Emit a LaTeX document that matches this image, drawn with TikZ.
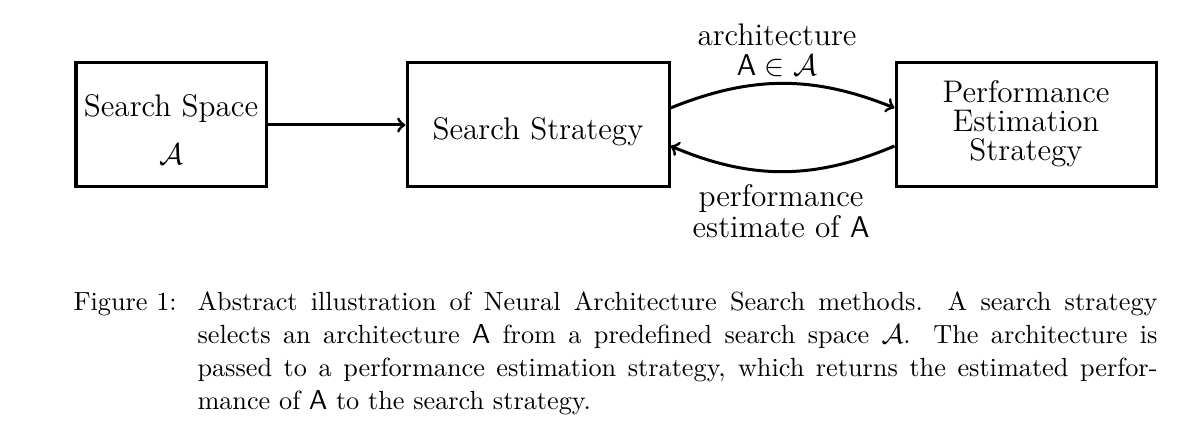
\documentclass[tikz,border=0pt]{standalone}
\begin{document}
\begin{tikzpicture}[x=0.4pt,y=0.4pt,
  box/.style={draw, line width=1.2pt, minimum height=49.6pt, inner sep=0pt},
  lbl/.style={font=\fontsize{12.5}{11.6}\selectfont, align=center, inner sep=0pt},
  arr/.style={line width=1.2pt, ->},
  captext/.style={font=\fontsize{10.5}{13.2}\selectfont, inner sep=0pt}]
\useasboundingbox (0,0) rectangle (1191,430);
\node[box, minimum width=76pt] (ss) at (171,305) {};
\node[box, minimum width=104.8pt] (st) at (538,305) {};
\node[box, minimum width=104pt] (pe) at (1026,305) {};
\node[lbl, anchor=base] (sst) at (171,313.3) {Search Space};
\node[lbl, anchor=base] (ssa) at (171,265) {$\mathcal{A}$};
\node[lbl, anchor=base] (stt) at (538,290) {Search Strategy};
\node[lbl, anchor=base] (pet) at (1026,269) {Performance\\Estimation\\Strategy};
\draw[arr] (ss) -- (st);
\draw[arr] ([yshift=6.8pt]st.east) to[bend left=22] ([yshift=6.8pt]pe.west);
\draw[arr] ([yshift=-8.4pt]pe.west) to[bend left=23] ([yshift=-8.4pt]st.east);
\node[lbl, anchor=base] (l1) at (777,354) {architecture\\[0.6pt]$\mathsf{A}\in\mathcal{A}$};
\node[lbl, anchor=base] (l2) at (781,192) {performance\\[1pt]estimate of $\mathsf{A}$};
\node[captext, anchor=base west] (fig) at (73,119) {Figure 1:};
\node[captext, anchor=base west, text width=384pt, align=justify] (body) at (197,119) {Abstract illustration of Neural Architecture Search methods. A search strategy\linebreak selects an architecture $\mathsf{A}$ from a predefined search space $\mathcal{A}$. The architecture is\linebreak passed to a performance estimation strategy, which returns the estimated perfor-\linebreak mance of $\mathsf{A}$ to the search strategy.};
\end{tikzpicture}
\end{document}
